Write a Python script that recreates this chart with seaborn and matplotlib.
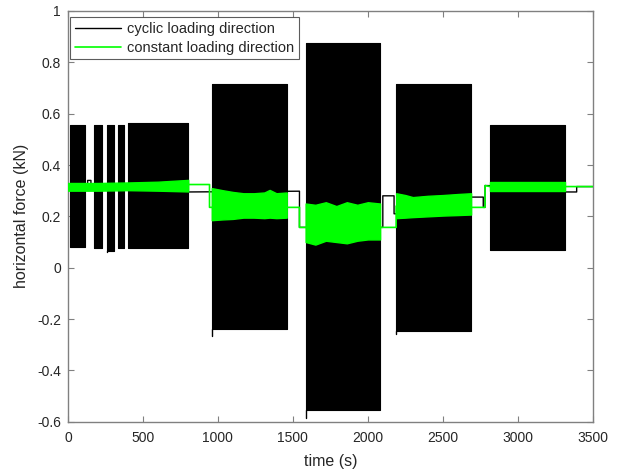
import numpy as np
import matplotlib
matplotlib.use("Agg")
import matplotlib.pyplot as plt
import seaborn as sns

# ---- data ----
# black (cyclic loading direction) oscillation blocks
blk_start = [13, 171, 260, 335, 397, 959, 1585, 2189, 2815]
blk_end   = [115, 227, 304, 375, 802, 1459, 2082, 2689, 3315]
blk_low   = [0.080, 0.075, 0.065, 0.075, 0.078, -0.240, -0.555, -0.245, 0.070]
blk_high  = [0.555, 0.555, 0.555, 0.555, 0.562, 0.715, 0.875, 0.715, 0.555]
blk_spike = [0.080, 0.075, 0.060, 0.075, 0.078, -0.265, -0.585, -0.257, 0.070]

# black mean path (between blocks)
black_t = [0, 131, 131, 153, 153, 802, 802, 1544, 1544, 2100, 2100, 2175, 2175,
           2189, 2689, 2770, 2770, 2782, 2782, 3315, 3315, 3393, 3393, 3500]
black_v = [0.320, 0.320, 0.340, 0.340, 0.320, 0.320, 0.295, 0.298, 0.157, 0.157,
           0.280, 0.280, 0.210, 0.210, 0.275, 0.275, 0.235, 0.235, 0.320, 0.315,
           0.295, 0.295, 0.316, 0.316]

# green (constant loading direction) mean path
green_t = [0, 802, 944, 944, 1459, 1544, 1544, 2082, 2189, 2189, 2689, 2782, 2782,
           2815, 3315, 3500]
green_v = [0.315, 0.324, 0.324, 0.235, 0.235, 0.235, 0.157, 0.157, 0.157, 0.240,
           0.235, 0.235, 0.320, 0.316, 0.316, 0.316]

# green oscillation bands
g0_t  = [0, 200, 400, 600, 802]
g0_lo = [0.300, 0.300, 0.302, 0.300, 0.297]
g0_hi = [0.330, 0.330, 0.332, 0.335, 0.342]

g1_t  = [959, 1030, 1100, 1170, 1240, 1310, 1345, 1390, 1459]
g1_lo = [0.185, 0.188, 0.190, 0.195, 0.195, 0.193, 0.195, 0.193, 0.195]
g1_hi = [0.310, 0.302, 0.295, 0.290, 0.290, 0.293, 0.303, 0.290, 0.293]

g2_t  = [1585, 1650, 1720, 1790, 1860, 1930, 2000, 2082]
g2_lo = [0.100, 0.090, 0.105, 0.100, 0.095, 0.105, 0.110, 0.110]
g2_hi = [0.250, 0.245, 0.255, 0.240, 0.255, 0.245, 0.255, 0.250]

g3_t  = [2189, 2250, 2300, 2400, 2500, 2600, 2689]
g3_lo = [0.193, 0.195, 0.197, 0.200, 0.203, 0.205, 0.207]
g3_hi = [0.290, 0.283, 0.275, 0.280, 0.283, 0.287, 0.290]

g4_t  = [2815, 3315]
g4_lo = [0.298, 0.298]
g4_hi = [0.333, 0.333]

x_ticks = [0, 500, 1000, 1500, 2000, 2500, 3000, 3500]
y_ticks = [-0.6, -0.4, -0.2, 0, 0.2, 0.4, 0.6, 0.8, 1]
y_labels = ["-0.6", "-0.4", "-0.2", "0", "0.2", "0.4", "0.6", "0.8", "1"]

# ---- style ----
sns.set_style("white")
plt.rcParams["font.family"] = ["Liberation Sans", "DejaVu Sans"]

GREEN = "#00ff00"
AXC = "#808080"
TXT = "#262626"

fig = plt.figure(figsize=(6.24, 4.73), dpi=100)
ax = fig.add_axes([68 / 624, 1 - 421.7 / 473, (592.7 - 68) / 624, (421.7 - 11) / 473])

# black blocks
for s, e, lo, hi, mn in zip(blk_start, blk_end, blk_low, blk_high, blk_spike):
    ax.fill_between([s, e], [lo, lo], [hi, hi], color="black", lw=0.8, zorder=2)
    ax.plot([s, s], [mn, lo], color="black", lw=1.0, zorder=2)

sns.lineplot(x=black_t, y=black_v, estimator=None, sort=False, color="black",
             lw=1.0, ax=ax, label="cyclic loading direction", zorder=3)

for t, lo, hi in [(g0_t, g0_lo, g0_hi), (g1_t, g1_lo, g1_hi), (g2_t, g2_lo, g2_hi),
                  (g3_t, g3_lo, g3_hi), (g4_t, g4_lo, g4_hi)]:
    ax.fill_between(t, lo, hi, color=GREEN, lw=1.0, zorder=4)

sns.lineplot(x=green_t, y=green_v, estimator=None, sort=False, color=GREEN,
             lw=1.2, ax=ax, label="constant loading direction", zorder=5)

ax.set_xlim(0, 3500)
ax.set_ylim(-0.6, 1)
ax.set_xticks(x_ticks)
ax.set_xticklabels([str(v) for v in x_ticks])
ax.set_yticks(y_ticks)
ax.set_yticklabels(y_labels)

for sp in ax.spines.values():
    sp.set_visible(True)
    sp.set_color(AXC)
    sp.set_linewidth(1.0)

ax.tick_params(axis="both", which="both", direction="in", length=4, width=0.8,
               color=AXC, labelcolor=TXT, labelsize=10, top=True, right=True,
               bottom=True, left=True)
ax.tick_params(axis="x", pad=7)
ax.tick_params(axis="y", pad=5)

ax.set_xlabel("time (s)", fontsize=11.5, color=TXT, labelpad=6)
ax.set_ylabel("horizontal force (kN)", fontsize=11.5, color=TXT, labelpad=6)

leg = ax.legend(loc="upper left", bbox_to_anchor=(0.0, 0.99), fontsize=10.5,
                frameon=True, fancybox=False, edgecolor="#333333",
                borderaxespad=0.15, handlelength=3.2, handletextpad=0.4,
                borderpad=0.3, labelspacing=0.35)
leg.get_frame().set_linewidth(0.8)
leg.set_zorder(10)

fig.savefig("out.png", dpi=100)
